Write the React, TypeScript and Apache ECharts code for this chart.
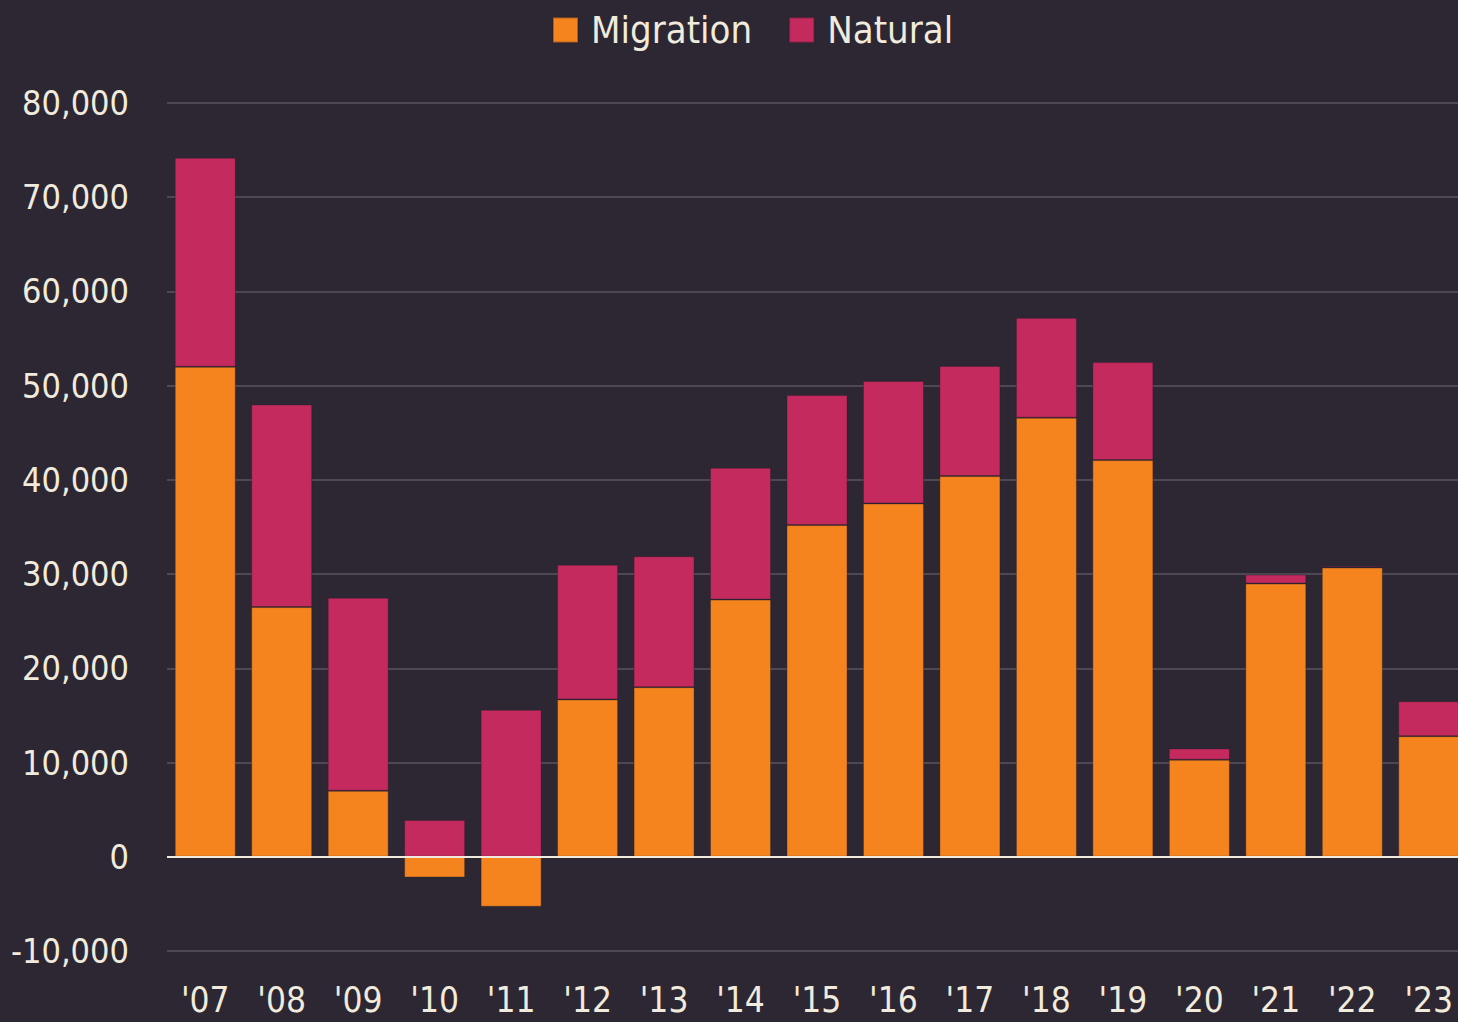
import React, { useEffect, useRef } from "react";
import * as echarts from "echarts";

const years = ["'07", "'08", "'09", "'10", "'11", "'12", "'13", "'14", "'15", "'16", "'17", "'18", "'19", "'20", "'21", "'22", "'23"];
const migration = [52000, 26500, 7000, -2200, -5300, 16700, 18000, 27300, 35200, 37500, 40400, 46600, 42100, 10300, 29000, 30700, 12800];
const natural = [22200, 21500, 20500, 3900, 15600, 14300, 13900, 14000, 13800, 13000, 11700, 10600, 10400, 1200, 950, 150, 3700];

const FONT = "'Liberation Sans Narrow', 'Arial Narrow', 'DejaVu Sans Condensed', sans-serif";
const BG = "#2d2633";
const TEXT = "#f0ebdd";
const ORANGE = "#f5841f";
const MAGENTA = "#c42a5e";

export default function App() {
  const ref = useRef<HTMLDivElement>(null);
  useEffect(() => {
    if (!ref.current) return;
    const chart = echarts.init(ref.current, null, { renderer: "svg" });
    chart.setOption({
      animation: false,
      backgroundColor: BG,
      textStyle: { fontFamily: FONT },
      legend: {
        left: 552,
        top: 6,
        padding: 0,
        itemWidth: 25,
        itemHeight: 25,
        itemGap: 36,
        icon: "rect",
        textStyle: { color: TEXT, fontSize: 38, fontFamily: FONT, lineHeight: 48, padding: [0, 0, 0, 8] },
        data: ["Migration", "Natural"],
      },
      grid: { left: 167, right: 0, top: 103, bottom: 71, containLabel: false },
      xAxis: {
        type: "category",
        data: years,
        axisLine: { show: false, onZero: false },
        axisTick: { show: false },
        axisLabel: { color: TEXT, fontSize: 35, fontFamily: FONT, margin: 31 },
      },
      yAxis: {
        type: "value",
        min: -10000,
        max: 80000,
        interval: 10000,
        axisLine: { show: false },
        axisTick: { show: false },
        axisLabel: {
          color: TEXT,
          fontSize: 34,
          fontFamily: FONT,
          margin: 38,
          formatter: (v: number) => v.toLocaleString("en-US"),
        },
        splitLine: { lineStyle: { color: "#5a5460", width: 1.5 } },
      },
      series: [
        {
          name: "Migration",
          type: "bar",
          stack: "total",
          data: migration,
          barWidth: 61,
          itemStyle: { color: ORANGE, borderColor: "rgba(40,30,40,0.35)", borderWidth: 1 },
        },
        {
          name: "Natural",
          type: "bar",
          stack: "total",
          data: natural,
          barWidth: 61,
          itemStyle: { color: MAGENTA, borderColor: "rgba(40,30,40,0.35)", borderWidth: 1 },
          markLine: {
            silent: true,
            symbol: "none",
            label: { show: false },
            lineStyle: { color: TEXT, width: 2, type: "solid" },
            data: [{ yAxis: 0 }],
          },
        },
      ],
    });
    return () => chart.dispose();
  }, []);
  return (
    <div
      style={{ position: "fixed", left: 0, top: 0, width: 1458, height: 1022, overflow: "hidden", background: BG }}
    >
      <div ref={ref} style={{ width: 1467, height: 1022 }} />
    </div>
  );
}
